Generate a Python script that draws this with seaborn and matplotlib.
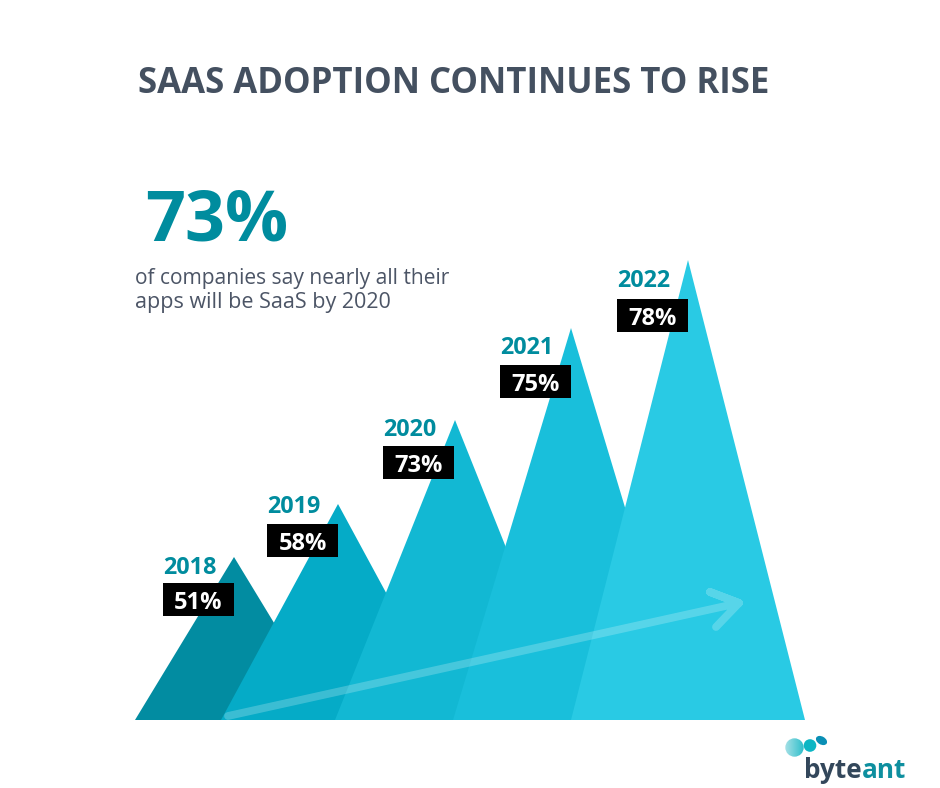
import numpy as np
import pandas as pd
import matplotlib
matplotlib.use('Agg')
import matplotlib.pyplot as plt
from matplotlib.patches import Circle, Ellipse, Rectangle
import seaborn as sns

# данные с картинки
years = ['2018', '2019', '2020', '2021', '2022']
shares = [51, 58, 73, 75, 78]
peak_heights = [163, 216, 300, 392, 460]

# раскладка в пикселях исходной картинки
base_y = 720
peak_x = [234, 338, 455, 571, 688]
half_widths = [99, 117, 120, 118, 117]
box_right = [234, 338, 454, 571, 688]
box_top = [583, 524, 446, 365, 299]
year_gap = [9, 11, 10, 11, 12]
colors = ['#028CA1', '#05ABC7', '#12B8D3', '#19BFDB', '#29CAE4']
TEAL = '#008C9E'

sns.set_theme(style='white')
plt.rcParams['font.family'] = ['Open Sans', 'DejaVu Sans']

fig, ax = plt.subplots(figsize=(9.4, 7.88), dpi=100)
ax.set_position([0, 0, 1, 1])
ax.set_xlim(0, 940)
ax.set_ylim(788, 0)
ax.axis('off')

# треугольники
for px, hw, h, c in zip(peak_x, half_widths, peak_heights, colors):
    ax.fill([px - hw, px, px + hw], [base_y, base_y - h, base_y], color=c, lw=0, zorder=2)

# стрелка одной линией, чтобы прозрачность не накладывалась
arrow = pd.DataFrame({'x': [228, 739, 710, 739, 716], 'y': [716, 603, 592, 603, 627]})
sns.lineplot(data=arrow, x='x', y='y', sort=False, estimator=None, ax=ax, color='white',
             alpha=0.22, lw=5.6, solid_capstyle='round', solid_joinstyle='round', zorder=3)
ax.set_xlabel('')
ax.set_ylabel('')

# подписи годов и значений
for yr, val, right, top, gap in zip(years, shares, box_right, box_top, year_gap):
    ax.add_patch(Rectangle((right - 71, top), 71, 33, color='black', lw=0, zorder=4))
    ax.text(right - 35.5, top + 17, f'{val}%', color='white', fontsize=17, fontweight='bold',
            ha='center', va='center_baseline', zorder=5)
    ax.text(right - 71, top - gap, yr, color=TEAL, fontsize=16.8, fontweight='bold',
            ha='left', va='baseline', zorder=5)

ax.text(138, 93, 'SAAS ADOPTION CONTINUES TO RISE', color='#445060', fontsize=25,
        fontweight='bold', ha='left', va='baseline')
ax.text(145, 240, '73%', color=TEAL, fontsize=50.5, fontweight='bold', ha='left', va='baseline')
ax.text(135, 284, 'of companies say nearly all their', color='#4C5566', fontsize=15.1,
        ha='left', va='baseline')
ax.text(135, 308, 'apps will be SaaS by 2020', color='#4C5566', fontsize=15.5,
        ha='left', va='baseline')

# логотип
grad = np.linspace(0, 1, 32).reshape(1, -1)
cmap = matplotlib.colors.LinearSegmentedColormap.from_list('logo', ['#A5E0E6', '#2FBFCB'])
img = ax.imshow(grad, extent=(785, 804, 757, 738), cmap=cmap, aspect='auto', zorder=3)
img.set_clip_path(Circle((794.5, 747.5), 9.2, transform=ax.transData))
ax.set_xlim(0, 940)
ax.set_ylim(788, 0)
ax.add_patch(Circle((810, 745.5), 6.3, color='#0CB6C4', lw=0))
ax.add_patch(Ellipse((821.5, 740.5), 12, 8, angle=30, color='#0A8FB5', lw=0))
t = ax.text(804.5, 778, 'byte', color='#33475B', fontsize=18.8, fontweight='bold', ha='left', va='baseline')
fig.canvas.draw()
bb = t.get_window_extent()
ax.text(bb.x1 * 940 / fig.bbox.width, 778, 'ant', color='#0E8F9F', fontsize=18.8, fontweight='bold',
        ha='left', va='baseline')

fig.savefig('out.png', dpi=100)
